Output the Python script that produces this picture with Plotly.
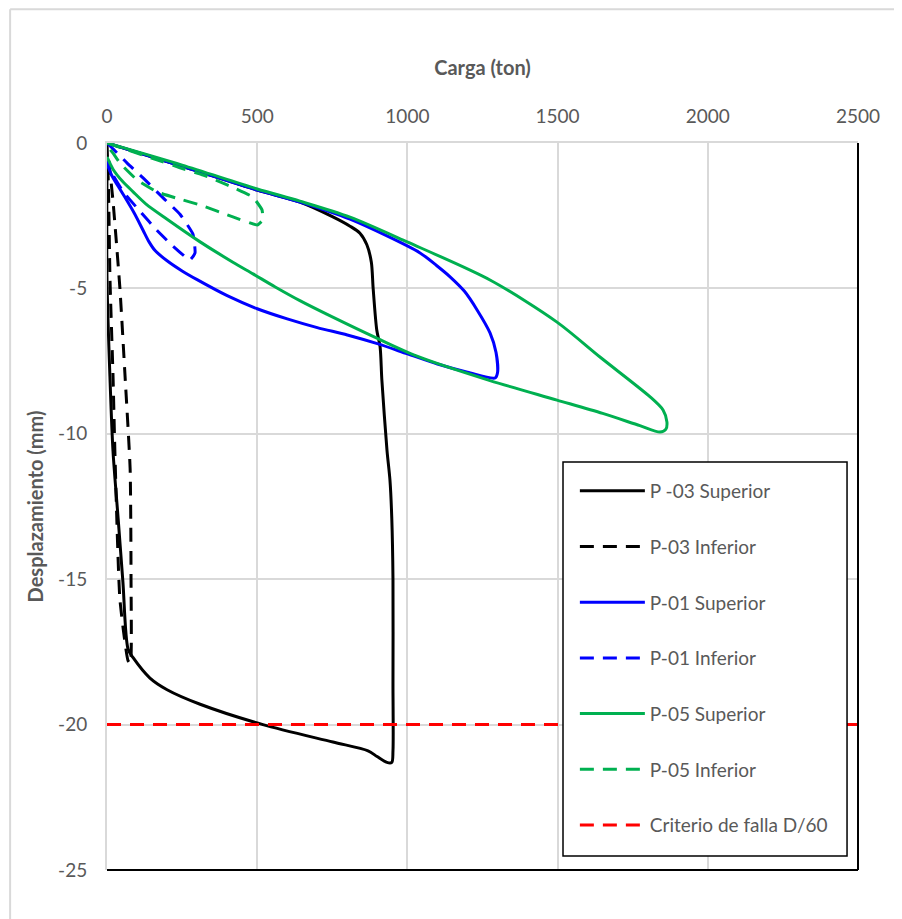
import plotly.graph_objects as go

# ---------------- data ----------------
p03_sup_carga = [0, 250, 500, 642, 752, 809, 842, 865, 880, 886, 898, 909, 915, 932, 942, 948, 952, 952, 952,
                 948, 932, 899, 869, 752, 519, 310, 200, 143, 87, 70, 53, 37, 20, 10, 0, 0]
p03_sup_desp = [0, -0.8, -1.62, -2.03, -2.54, -2.86, -3.1, -3.5, -4.1, -5.0, -6.43, -7.0, -8.15, -10.56, -11.6,
                -12.9, -15.0, -18.6, -20.9, -21.3, -21.3, -21.1, -20.9, -20.6, -20.0, -19.3, -18.8, -18.4, -17.7,
                -17.4, -15.1, -12.9, -10.6, -8.1, -4.7, -1.0]

p03_inf_carga = [0, 5, 10, 20, 27, 43, 70, 78, 80, 77, 60, 43, 20, 5]
p03_inf_desp = [0, -1.6, -4.7, -8.0, -10.9, -15.7, -17.8, -17.9, -15.0, -11.2, -8.0, -5.0, -2.0, -0.5]

p01_sup_carga = [0, 250, 500, 642, 809, 1042, 1098, 1142, 1190, 1232, 1275, 1295, 1300, 1292,
                 1200, 1100, 1000, 900, 800, 700, 600, 500, 400, 300, 250, 200, 160, 140, 120, 90, 50, 15, 0]
p01_sup_desp = [0, -0.8, -1.62, -2.03, -2.62, -3.78, -4.22, -4.6, -5.1, -5.74, -6.53, -7.2, -7.9, -8.08,
                -7.88, -7.6, -7.25, -6.9, -6.6, -6.35, -6.05, -5.7, -5.25, -4.7, -4.4, -4.05, -3.7, -3.4,
                -3.0, -2.4, -1.7, -1.1, -0.7]

p01_inf_carga = [0, 20, 67, 120, 186, 243, 286, 293, 276, 220, 166, 110, 53, 10, 0]
p01_inf_desp = [0, -0.2, -0.69, -1.2, -1.88, -2.45, -3.13, -3.78, -4.02, -3.55, -3.0, -2.35, -1.66, -0.93, -0.6]

p05_sup_carga = [0, 250, 500, 642, 809, 999, 1275, 1498, 1641, 1808, 1851, 1864, 1860, 1841,
                 1774, 1650, 1498, 1275, 1032, 900, 750, 642, 560, 486, 419, 310, 200, 130, 87, 50, 20, 0]
p05_sup_desp = [0, -0.76, -1.58, -2.0, -2.55, -3.4, -4.71, -6.16, -7.36, -8.73, -9.18, -9.6, -9.85, -9.94,
                -9.72, -9.3, -8.84, -8.17, -7.33, -6.72, -5.98, -5.42, -4.95, -4.5, -4.1, -3.4, -2.62, -2.1,
                -1.68, -1.3, -0.9, -0.48]

p05_inf_carga = [0, 80, 166, 243, 320, 400, 486, 516, 519, 500, 419, 310, 233, 166, 100, 43, 20, 0]
p05_inf_desp = [0, -0.28, -0.58, -0.85, -1.1, -1.44, -1.86, -2.3, -2.65, -2.82, -2.54, -2.13, -1.9, -1.68,
                -1.27, -0.69, -0.35, -0.1]

criterio_carga = [0, 2500]
criterio_desp = [-20, -20]

x_ticks = [0, 500, 1000, 1500, 2000, 2500]
y_ticks = [0, -5, -10, -15, -20, -25]

# ---------------- figure ----------------
FONT = "Lato, 'Open Sans', Arial, sans-serif"
GRAY = "#595959"
GRID = "#d9d9d9"
DASH = "14px,9px"

series = [
    ("P -03 Superior", p03_sup_carga, p03_sup_desp, "#000000", "solid", 0.8),
    ("P-03 Inferior", p03_inf_carga, p03_inf_desp, "#000000", DASH, 0.5),
    ("P-01 Superior", p01_sup_carga, p01_sup_desp, "#0000ff", "solid", 0.8),
    ("P-01 Inferior", p01_inf_carga, p01_inf_desp, "#0000ff", DASH, 0.4),
    ("P-05 Superior", p05_sup_carga, p05_sup_desp, "#00b050", "solid", 0.8),
    ("P-05 Inferior", p05_inf_carga, p05_inf_desp, "#00b050", DASH, 0.3),
    ("Criterio de falla D/60", criterio_carga, criterio_desp, "#ff0000", DASH, 0),
]

fig = go.Figure()
for name, xs, ys, color, dash, sm in series:
    line = dict(color=color, width=3, dash=dash)
    if sm > 0:
        line.update(shape="spline", smoothing=sm)
    fig.add_trace(go.Scatter(x=xs, y=ys, name=name, mode="lines", legendgroup=name, line=line))

fig.update_layout(
    width=902, height=919,
    margin=dict(l=99, r=52, t=135, b=57),
    paper_bgcolor="white", plot_bgcolor="white",
    font=dict(family=FONT, color=GRAY, size=19),
    showlegend=True,
    legend=dict(
        x=0.623, y=0.5475, xanchor="left", yanchor="top",
        bgcolor="rgba(0,0,0,0)", borderwidth=0,
        font=dict(family=FONT, size=19, color=GRAY),
        tracegroupgap=28, itemwidth=65,
    ),
    xaxis=dict(
        side="top", range=[0, 2500], tickvals=x_ticks, ticktext=[str(v) for v in x_ticks],
        tickfont=dict(size=19),
        showgrid=True, gridcolor=GRID, gridwidth=2,
        showline=True, linecolor=GRID, linewidth=2,
        ticks="outside", ticklen=10, tickcolor="rgba(0,0,0,0)",
        zeroline=False,
        title=dict(text="<b>Carga (ton)</b>", font=dict(family=FONT, size=20, color=GRAY), standoff=23),
    ),
    yaxis=dict(
        range=[-25, 0], tickvals=y_ticks, ticktext=[str(v) for v in y_ticks],
        tickfont=dict(size=19),
        showgrid=True, gridcolor=GRID, gridwidth=2,
        showline=True, linecolor=GRID, linewidth=2,
        ticks="outside", ticklen=14, tickcolor="rgba(0,0,0,0)",
        zeroline=False,
        title=dict(text="<b>Desplazamiento (mm)</b>", font=dict(family=FONT, size=20, color=GRAY), standoff=9),
    ),
    shapes=[
        # legend box (white, framed)
        dict(type="rect", xref="paper", yref="paper", x0=0.6072, x1=0.9854, y0=0.0193, y1=0.5612,
             fillcolor="white", line=dict(color="#000000", width=1.5), layer="above"),
        # right and bottom plot-area edges (black)
        dict(type="line", xref="paper", yref="paper", x0=1, x1=1, y0=0, y1=1,
             line=dict(color="#000000", width=2), layer="above"),
        dict(type="line", xref="paper", yref="paper", x0=0, x1=1, y0=0, y1=0,
             line=dict(color="#000000", width=2), layer="above"),
        # outer chart border (top and left visible)
        dict(type="line", xref="paper", yref="paper", x0=-0.129, x1=1.2, y0=1.184, y1=1.184,
             line=dict(color=GRID, width=2)),
        dict(type="line", xref="paper", yref="paper", x0=-0.129, x1=-0.129, y0=-0.2, y1=1.184,
             line=dict(color=GRID, width=2)),
    ],
)

fig.write_html("out.html")
